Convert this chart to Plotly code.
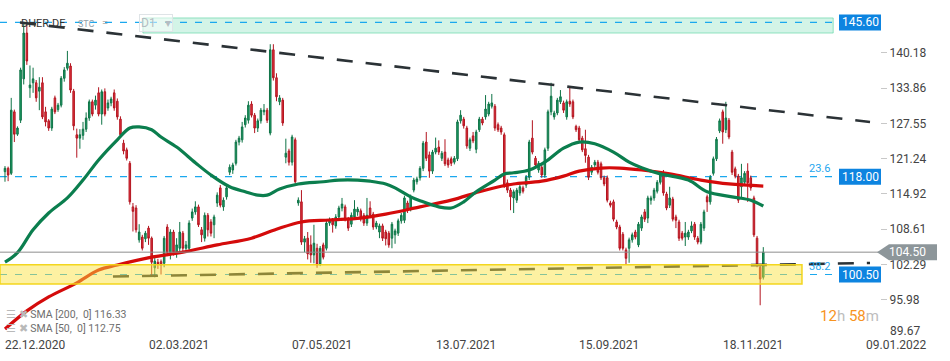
import plotly.graph_objects as go

# ---------------- data ----------------
TICKER = "DHER.DE"
DATE_LABELS = ["22.12.2020", "02.03.2021", "07.05.2021", "13.07.2021",
               "15.09.2021", "18.11.2021", "09.01.2022"]
DATE_LABEL_BARS = [0, 46, 92, 138, 184, 230, 276]
Y_TICKS = [140.18, 133.86, 127.55, 121.24, 114.92, 108.61, 102.29, 95.98]
Y_BOTTOM_TICK = 89.67

OPEN = [
    118.9, 119.5, 118.6, 129.6, 125.6, 128.1, 135.5, 143.7, 133.9, 134.8,
    134.8, 133.3, 134.8, 129.6, 128.0, 126.7, 132.1, 130.0, 130.8, 135.6,
    137.4, 137.8, 133.3, 125.5, 124.9, 125.4, 126.5, 128.5, 131.4, 130.8,
    133.0, 129.2, 133.2, 130.3, 131.2, 133.0, 131.5, 128.3, 124.0, 122.8,
    120.4, 112.6, 112.4, 106.7, 107.2, 106.9, 108.8, 107.0, 101.7, 102.7,
    102.8, 102.5, 109.0, 104.4, 108.1, 104.5, 105.2, 107.9, 105.2, 105.2,
    110.6, 111.7, 112.6, 108.5, 107.0, 111.1, 109.9, 109.4, 113.3, 116.0,
    112.6, 114.4, 118.8, 119.2, 120.4, 124.2, 124.6, 127.3, 128.1, 131.0,
    129.0, 126.7, 128.0, 129.6, 129.9, 125.8, 140.7, 135.7, 131.4, 131.7,
    121.5, 122.6, 120.6, 124.6, 113.3, 113.5, 106.3, 107.0, 105.8, 104.0,
    105.2, 102.4, 105.8, 105.2, 109.7, 110.2, 109.2, 110.8, 112.4, 112.6,
    110.4, 109.5, 110.8, 111.7, 111.9, 111.1, 109.7, 112.4, 111.3, 109.0,
    108.1, 109.2, 108.1, 107.9, 107.0, 107.6, 107.9, 110.1, 110.2, 113.3,
    112.4, 115.6, 117.1, 117.8, 119.5, 124.2, 121.9, 119.0, 122.4, 123.3,
    121.3, 122.4, 121.0, 121.2, 120.6, 121.2, 128.0, 128.3, 126.7, 123.1,
    125.3, 122.9, 126.4, 128.3, 128.7, 129.2, 130.6, 130.6, 127.3, 126.7,
    125.5, 116.9, 115.6, 114.2, 113.8, 115.1, 116.0, 116.5, 117.9, 124.9,
    121.3, 119.2, 119.7, 118.3, 123.1, 129.6, 128.7, 129.4, 131.4, 131.2,
    128.7, 131.5, 131.4, 127.0, 126.7, 124.9, 123.0, 121.5, 118.8, 120.1,
    120.6, 120.3, 117.8, 117.8, 113.3, 113.5, 109.9, 109.0, 107.7, 104.9,
    105.2, 106.7, 108.1, 105.8, 108.8, 111.7, 110.6, 113.8, 114.2, 115.4,
    117.0, 118.6, 114.9, 112.9, 114.0, 110.8, 109.9, 107.9, 107.2, 107.2,
    108.3, 109.5, 107.0, 106.3, 108.8, 114.4, 113.5, 118.6, 121.2, 126.2,
    129.6, 126.4, 128.1, 122.4, 119.4, 118.1, 116.2, 117.0, 119.0, 117.8,
    114.2, 107.0, 101.8, 100.0,
]
HIGH = [
    119.9, 119.8, 132.1, 130.0, 127.0, 137.5, 145.6, 145.6, 137.9, 137.5,
    135.3, 135.8, 135.8, 130.5, 128.3, 130.5, 132.5, 131.2, 136.0, 137.6,
    140.5, 138.3, 133.7, 126.6, 126.5, 127.8, 129.5, 131.8, 131.8, 132.5,
    134.0, 133.6, 133.8, 131.8, 132.3, 133.6, 132.0, 128.8, 124.6, 123.2,
    120.8, 113.3, 112.9, 109.5, 107.6, 108.3, 109.2, 107.3, 103.5, 103.3,
    103.2, 107.4, 109.5, 108.6, 108.5, 107.0, 109.9, 108.3, 106.5, 110.2,
    112.3, 113.6, 113.0, 109.0, 111.6, 111.5, 110.4, 111.2, 115.2, 116.5,
    114.3, 116.4, 120.2, 120.5, 124.6, 125.3, 127.8, 129.0, 131.5, 131.5,
    129.4, 128.4, 130.3, 131.0, 130.3, 141.7, 141.7, 136.5, 132.6, 132.1,
    124.8, 123.0, 125.5, 125.0, 114.3, 115.6, 107.4, 108.1, 107.5, 109.4,
    106.0, 105.6, 106.2, 110.2, 110.7, 110.6, 111.3, 112.8, 114.2, 113.0,
    110.8, 111.6, 113.8, 112.6, 112.3, 111.5, 114.2, 113.6, 111.7, 110.1,
    109.6, 109.6, 108.5, 108.3, 109.9, 108.7, 110.5, 111.5, 114.6, 113.7,
    114.8, 117.8, 118.0, 119.9, 124.4, 126.0, 122.5, 122.8, 125.0, 124.5,
    122.6, 124.7, 121.4, 121.6, 121.7, 128.2, 129.9, 128.7, 127.1, 125.0,
    126.0, 126.4, 128.7, 128.7, 132.6, 131.4, 132.8, 131.0, 127.7, 127.1,
    125.9, 117.5, 116.0, 115.7, 116.0, 116.6, 116.4, 118.3, 124.6, 128.1,
    121.7, 120.8, 120.1, 123.2, 130.0, 134.8, 129.8, 132.1, 133.5, 131.6,
    131.8, 133.9, 131.8, 127.3, 127.1, 125.3, 126.4, 121.9, 120.1, 121.0,
    121.0, 120.7, 118.2, 118.2, 113.7, 113.9, 110.3, 109.4, 108.1, 105.3,
    107.1, 108.0, 108.5, 109.9, 111.2, 112.2, 114.6, 114.6, 116.0, 117.4,
    119.0, 119.2, 115.3, 116.2, 114.4, 111.2, 110.3, 108.3, 109.9, 108.5,
    110.0, 109.9, 107.4, 109.9, 112.1, 114.8, 118.3, 121.6, 125.1, 128.4,
    130.0, 131.4, 128.5, 122.8, 119.8, 118.5, 120.3, 119.0, 120.4, 118.2,
    114.6, 107.4, 102.4, 105.4,
]
LOW = [
    117.1, 117.2, 118.3, 124.2, 125.3, 127.6, 134.5, 138.0, 132.1, 133.0,
    131.4, 129.9, 128.3, 127.0, 126.2, 126.2, 129.2, 129.6, 130.4, 135.0,
    137.0, 133.0, 126.3, 121.4, 123.0, 124.6, 126.0, 128.0, 128.8, 130.0,
    128.8, 127.3, 128.8, 129.8, 130.6, 129.8, 128.2, 125.0, 122.0, 120.9,
    113.0, 108.2, 108.0, 106.2, 104.8, 106.3, 105.8, 100.4, 100.0, 101.5,
    100.5, 101.8, 103.8, 103.2, 103.9, 103.5, 104.6, 104.4, 104.5, 104.8,
    110.1, 111.2, 109.0, 106.3, 106.4, 107.3, 107.3, 107.0, 112.6, 112.5,
    111.9, 113.9, 118.3, 118.5, 120.0, 123.6, 124.1, 126.8, 127.5, 128.6,
    125.8, 126.0, 127.5, 129.0, 127.6, 125.4, 135.2, 131.5, 130.8, 127.1,
    120.4, 120.0, 120.0, 116.8, 112.8, 105.8, 104.5, 103.2, 102.6, 102.5,
    101.7, 102.0, 103.2, 104.8, 109.2, 108.0, 108.7, 110.4, 111.8, 110.0,
    108.3, 109.0, 110.3, 111.0, 110.0, 109.2, 109.2, 110.6, 108.5, 108.6,
    107.0, 106.5, 105.7, 105.3, 105.2, 106.0, 107.4, 109.6, 109.7, 111.5,
    111.8, 115.2, 116.6, 117.3, 119.0, 120.8, 117.8, 118.5, 122.0, 121.9,
    120.8, 119.9, 119.6, 119.9, 120.2, 120.8, 127.5, 126.6, 123.0, 122.6,
    124.0, 122.2, 126.0, 127.2, 128.2, 128.8, 130.2, 126.2, 126.0, 125.5,
    116.0, 115.1, 112.0, 111.5, 113.3, 114.6, 115.0, 116.0, 117.4, 122.0,
    119.6, 118.7, 117.8, 117.8, 122.6, 129.0, 128.2, 129.0, 131.0, 129.4,
    128.2, 130.5, 128.3, 126.0, 124.2, 122.4, 120.5, 117.4, 118.3, 119.6,
    118.4, 117.4, 116.3, 113.4, 112.5, 110.0, 108.6, 104.8, 104.8, 102.2,
    102.6, 106.2, 106.8, 105.4, 108.3, 109.9, 109.7, 113.0, 113.7, 115.0,
    116.6, 114.6, 112.0, 112.4, 110.0, 108.8, 106.5, 106.6, 105.6, 106.7,
    107.9, 106.7, 105.9, 105.9, 108.3, 111.7, 113.0, 118.2, 120.8, 125.8,
    123.9, 125.8, 124.7, 118.3, 117.7, 113.3, 114.2, 116.6, 113.5, 115.5,
    107.2, 101.8, 95.0, 99.6,
]
CLOSE = [
    119.5, 118.3, 129.9, 125.6, 126.7, 137.1, 143.7, 138.7, 134.4, 135.5,
    132.1, 134.0, 128.7, 127.8, 126.7, 130.1, 129.6, 130.8, 135.6, 137.1,
    138.3, 133.5, 127.1, 124.9, 125.5, 126.5, 128.5, 131.4, 129.2, 131.7,
    129.2, 133.2, 129.2, 131.2, 131.9, 130.3, 128.7, 125.5, 122.6, 121.3,
    113.5, 111.8, 108.5, 108.1, 105.2, 107.9, 107.0, 102.7, 102.9, 102.4,
    102.2, 107.0, 104.4, 108.1, 104.5, 105.8, 108.1, 105.2, 105.8, 109.7,
    111.7, 112.6, 109.4, 107.6, 111.1, 108.5, 107.9, 110.8, 114.7, 112.9,
    113.8, 116.0, 119.7, 120.1, 124.2, 124.9, 126.9, 128.5, 130.8, 129.0,
    126.7, 128.0, 129.9, 129.9, 128.1, 140.7, 135.7, 132.3, 132.1, 127.6,
    122.2, 120.6, 125.1, 117.1, 113.8, 106.3, 106.9, 104.2, 104.0, 106.1,
    102.2, 105.2, 103.6, 109.7, 110.2, 109.4, 110.8, 112.4, 113.1, 110.4,
    108.8, 111.1, 112.2, 112.2, 110.6, 109.7, 111.1, 111.1, 109.0, 109.7,
    109.2, 107.0, 106.9, 105.8, 109.5, 108.3, 110.1, 111.1, 114.2, 112.0,
    114.4, 117.4, 117.6, 119.5, 124.0, 121.3, 119.0, 122.4, 123.1, 122.4,
    122.2, 120.3, 120.1, 120.4, 121.3, 127.8, 129.0, 127.1, 123.5, 124.6,
    124.4, 126.0, 128.3, 127.6, 130.1, 131.0, 131.2, 126.7, 126.4, 126.0,
    116.5, 115.6, 114.4, 115.3, 115.6, 116.2, 115.4, 117.9, 124.2, 122.4,
    120.1, 120.4, 118.3, 122.8, 129.6, 132.4, 129.4, 131.7, 132.3, 129.9,
    131.4, 131.0, 128.7, 126.4, 124.6, 122.8, 121.8, 117.9, 119.7, 120.6,
    118.8, 117.8, 116.7, 113.8, 112.9, 110.4, 109.0, 105.2, 105.2, 103.4,
    106.7, 107.6, 107.2, 109.5, 110.8, 110.4, 114.2, 114.2, 115.6, 117.0,
    118.6, 115.1, 112.4, 114.2, 110.4, 110.2, 107.0, 107.0, 107.9, 108.1,
    109.2, 107.2, 106.3, 109.5, 111.7, 113.5, 117.9, 121.2, 124.7, 128.0,
    126.0, 128.5, 125.1, 118.8, 118.1, 113.8, 117.8, 118.6, 116.9, 116.0,
    107.6, 102.2, 99.7, 104.5,
]
BARS = list(range(len(CLOSE)))

SMA50_BARS = [0, 4, 9, 14, 20, 25, 30, 36, 40, 43, 47, 50, 55, 61, 66, 72, 77,
              81, 84, 88, 94, 102, 107, 113, 117, 122, 125, 130, 133, 139, 143,
              147, 151, 157, 160, 163, 168, 173, 179, 184, 189, 195, 200, 204,
              210, 219, 225, 233, 239, 243]
SMA50_VALUES = [102.7, 104.4, 108.5, 111.5, 114.2, 117.4, 121.0, 124.6, 126.7,
                126.9, 126.4, 125.1, 123.3, 120.5, 118.3, 116.2, 115.3, 114.7,
                114.7, 115.8, 116.7, 117.1, 117.4, 117.4, 117.2, 116.7, 116.0,
                114.4, 113.7, 112.6, 112.4, 113.5, 115.3, 117.4, 118.5, 118.7,
                119.2, 120.6, 123.1, 124.2, 123.9, 122.4, 120.6, 119.6, 118.5,
                117.4, 115.3, 114.4, 113.8, 112.75]
SMA200_BARS = [0, 7, 14, 23, 30, 36, 47, 57, 68, 79, 87, 95, 104, 114, 122,
               133, 143, 152, 159, 163, 172, 179, 184, 191, 197, 204, 213, 223,
               232, 243]
SMA200_VALUES = [90.75, 94.0, 96.5, 99.0, 101.3, 102.2, 103.6, 104.5, 105.8,
                 107.0, 108.6, 109.9, 110.25, 110.6, 111.3, 112.6, 113.8, 115.3,
                 116.3, 116.7, 117.2, 118.1, 119.0, 119.55, 119.55, 119.2,
                 118.5, 117.4, 116.7, 116.33]
SMA200_LAST = 116.33
SMA50_LAST = 112.75

UPPER_TREND_BARS = [4.8, 277.2]
UPPER_TREND_VALUES = [145.58, 127.78]
LOWER_TREND_BARS = [34.6, 277.2]
LOWER_TREND_VALUES = [100.14, 102.56]

LEVELS = [145.60, 118.00, 100.50]
FIB_LABELS = ["", "23.6", "38.2"]
LAST_PRICE = 104.50
SUPPLY_ZONE = [143.7, 146.4]
DEMAND_ZONE = [98.8, 102.25]
TIMER = ("12", "58")

# ---------------- figure ----------------
FONT = "Roboto, Arial, sans-serif"
Y0, Y1 = 89.68, 149.61
X0, X1 = -1.6, 280.4
PLOT_W, PLOT_H = 880, 335


def yp(v):
    return (v - Y0) / (Y1 - Y0)


def px(p):
    return p / PLOT_W


def py(p):
    return 1 - p / PLOT_H


fig = go.Figure()

fig.add_trace(go.Scatter(x=SMA200_BARS, y=SMA200_VALUES, mode="lines",
                         line=dict(color="#d40b0b", width=3.2, shape="spline"),
                         hoverinfo="skip"))
fig.add_trace(go.Scatter(x=SMA50_BARS, y=SMA50_VALUES, mode="lines",
                         line=dict(color="#0b7e4e", width=3.2, shape="spline"),
                         hoverinfo="skip"))

fig.add_trace(go.Candlestick(
    x=BARS, open=OPEN, high=HIGH, low=LOW, close=CLOSE,
    increasing=dict(fillcolor="#1f9e68", line=dict(color="#0f7447", width=1)),
    decreasing=dict(fillcolor="#e2343f", line=dict(color="#b3141f", width=1)),
    whiskerwidth=0, hoverinfo="skip"))

for xs, ys in [(UPPER_TREND_BARS, UPPER_TREND_VALUES),
               (LOWER_TREND_BARS, LOWER_TREND_VALUES)]:
    fig.add_trace(go.Scatter(x=xs, y=ys, mode="lines",
                             line=dict(color="#2b3236", width=2.6, dash="16px,13px"),
                             hoverinfo="skip"))

shapes = []
# supply zone (mint)
shapes.append(dict(type="rect", xref="x", yref="y", x0=44.2, x1=265.4,
                   y0=SUPPLY_ZONE[0], y1=SUPPLY_ZONE[1], layer="below",
                   fillcolor="rgba(80,212,160,0.25)",
                   line=dict(color="rgba(70,205,150,0.55)", width=1)))
# level lines
for lv in LEVELS:
    shapes.append(dict(type="line", xref="x", yref="y", x0=X0, x1=267,
                       y0=lv, y1=lv, layer="below",
                       line=dict(color="#1ba8ee", width=1.2, dash="7px,8px")))
# last price line
shapes.append(dict(type="line", xref="x", yref="y", x0=X0, x1=X1,
                   y0=LAST_PRICE, y1=LAST_PRICE, layer="above",
                   line=dict(color="#8e8e8e", width=1)))
# demand zone (yellow, translucent on top)
shapes.append(dict(type="rect", xref="x", yref="y", x0=X0, x1=255.4,
                   y0=DEMAND_ZONE[0], y1=DEMAND_ZONE[1], layer="above",
                   fillcolor="rgba(251,226,60,0.48)",
                   line=dict(color="rgba(242,212,20,0.95)", width=1.5)))
# blue level labels
half = 8 / PLOT_H
for lv in LEVELS:
    shapes.append(dict(type="rect", xref="paper", yref="paper",
                       x0=px(839), x1=px(881), y0=yp(lv) - half, y1=yp(lv) + half,
                       fillcolor="#0d84e0", line=dict(width=0), layer="above"))
# last price arrow label
yl = yp(LAST_PRICE)
path = "M {a} {b} L {c} {d} L {e} {d} L {e} {f} L {c} {f} Z".format(
    a=px(877), b=yl, c=px(889), d=yl + half, e=px(937), f=yl - half)
shapes.append(dict(type="path", xref="paper", yref="paper", path=path,
                   fillcolor="#8d969a", line=dict(width=0), layer="above"))

ann = []
for lbl, bar in zip(DATE_LABELS, DATE_LABEL_BARS):
    ann.append(dict(x=bar, xref="x", y=0, yref="paper", xanchor="left",
                    yanchor="top", xshift=-2, yshift=-1, showarrow=False,
                    text=lbl, font=dict(family=FONT, size=12, color="#444")))
ann.append(dict(x=px(888), y=py(331), xref="paper", yref="paper",
                xanchor="left", yanchor="middle", showarrow=False,
                text=f"{Y_BOTTOM_TICK:.2f}",
                font=dict(family=FONT, size=12, color="#444")))
for lv, fl in zip(LEVELS, FIB_LABELS):
    ann.append(dict(x=px(860), y=yp(lv), xref="paper", yref="paper",
                    xanchor="center", yanchor="middle", showarrow=False,
                    text=f"{lv:.2f}", font=dict(family=FONT, size=12, color="white")))
    if fl:
        ann.append(dict(x=265, y=lv, xref="x", yref="y", xanchor="right",
                        yanchor="middle", yshift=8, showarrow=False, text=fl,
                        font=dict(family=FONT, size=11, color="#1ea6ee")))
ann.append(dict(x=px(908), y=yl, xref="paper", yref="paper", xanchor="center",
                yanchor="middle", showarrow=False, text=f"{LAST_PRICE:.2f}",
                font=dict(family=FONT, size=12, color="white")))
# header
ann.append(dict(x=px(19), y=py(23), xref="paper", yref="paper", xanchor="left",
                yanchor="middle", showarrow=False, text=TICKER,
                font=dict(family=FONT, size=11, color="#333")))
ann.append(dict(x=px(76), y=py(24), xref="paper", yref="paper", xanchor="left",
                yanchor="middle", showarrow=False, text="STC",
                font=dict(family=FONT, size=9, color="#93a1aa")))
ann.append(dict(x=px(100), y=py(22), xref="paper", yref="paper", xanchor="left",
                yanchor="middle", showarrow=False, text="=",
                font=dict(family=FONT, size=11, color="#b8b8b8")))
ann.append(dict(x=px(139), y=py(23), xref="paper", yref="paper", xanchor="left",
                yanchor="middle", showarrow=False, text="D1\u00a0\u00a0\u00a0▾",
                bordercolor="#dfe4e7", borderwidth=1, borderpad=1,
                bgcolor="rgba(255,255,255,0.5)",
                font=dict(family=FONT, size=12, color="#b5bdc2")))
# indicator legend
for yy, txt in [(314, f"SMA [200,  0] {SMA200_LAST:.2f}"),
                (328, f"SMA [50,  0] {SMA50_LAST:.2f}")]:
    ann.append(dict(x=px(4), y=py(yy), xref="paper", yref="paper",
                    xanchor="left", yanchor="middle", showarrow=False,
                    text="<span style='color:#b9b9b9'>☰ ✖</span> " + txt,
                    font=dict(family=FONT, size=10.5, color="#6e6e6e")))
# timer
ann.append(dict(x=px(881), y=py(316), xref="paper", yref="paper",
                xanchor="right", yanchor="middle", showarrow=False,
                text=(f"<span style='color:#f7931e'>{TIMER[0]}</span>"
                      f"<span style='color:#bdbdbd'>h</span> "
                      f"<span style='color:#f7931e'>{TIMER[1]}</span>"
                      f"<span style='color:#bdbdbd'>m</span>"),
                font=dict(family=FONT, size=15)))

fig.update_layout(
    width=950, height=361,
    margin=dict(l=0, r=70, t=0, b=26),
    paper_bgcolor="white", plot_bgcolor="white",
    showlegend=False,
    shapes=shapes, annotations=ann,
    xaxis=dict(range=[X0, X1], showticklabels=False, showgrid=False,
               zeroline=False, showline=False, ticks="",
               rangeslider=dict(visible=False)),
    yaxis=dict(range=[Y0, Y1], side="right", tickvals=Y_TICKS,
               ticktext=[f"{v:.2f}" for v in Y_TICKS], showgrid=False,
               zeroline=False, showline=False, ticks="outside", ticklen=6,
               tickcolor="#c8c8c8",
               tickfont=dict(family=FONT, size=12, color="#444")),
)

fig.write_html(
    "out.html",
    config={"displayModeBar": False},
    post_script="document.body.style.margin='0';document.body.style.overflow='hidden';",
)
